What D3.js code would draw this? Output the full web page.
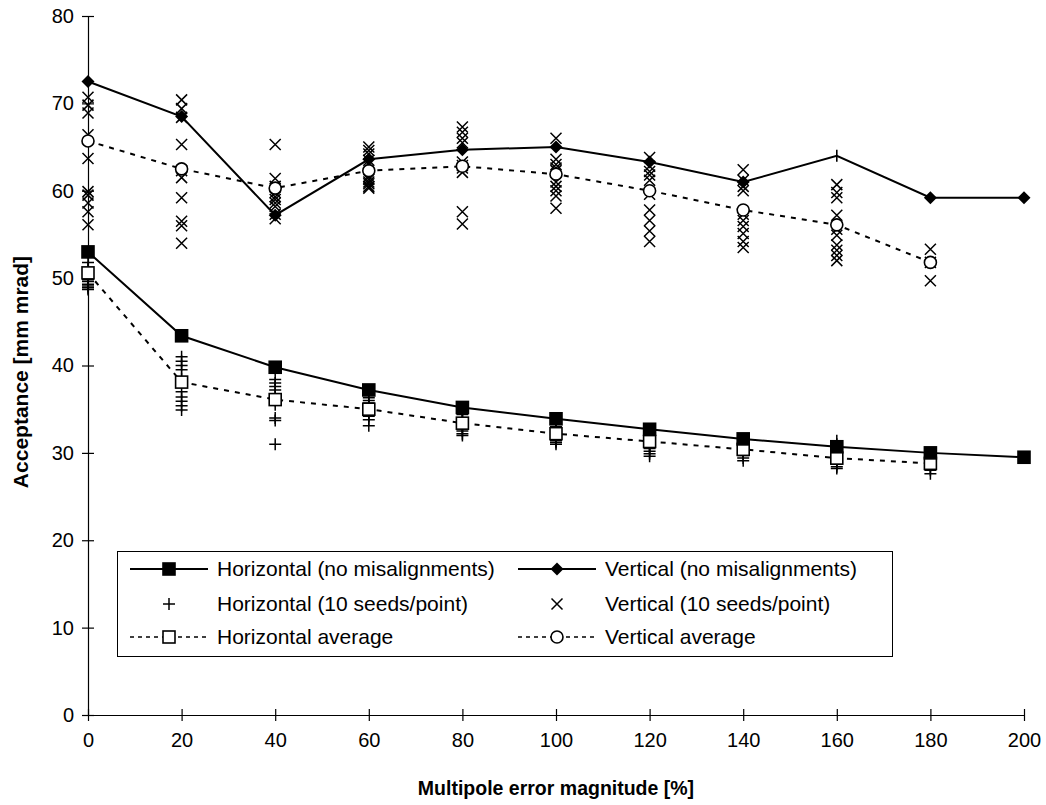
<!DOCTYPE html>
<html>
<head>
<meta charset="utf-8">
<script src="https://cdn.jsdelivr.net/npm/d3@7"></script>
<style>
  body { margin: 0; background: #fff; }
  svg { display: block; font-family: "Liberation Sans", Arial, sans-serif; }
</style>
</head>
<body>
<svg id="chart" width="1046" height="805"></svg>
<script>
'use strict'

// multipole error magnitude [%]
const errorPct = [0, 20, 40, 60, 80, 100, 120, 140, 160, 180, 200]

// acceptance without misalignments
const horizNoMis = [53.0, 43.4, 39.8, 37.2, 35.2, 33.9, 32.7, 31.6, 30.7, 30.0, 29.5]
const vertNoMis = [72.5, 68.5, 57.2, 63.6, 64.7, 65.0, 63.3, 61.0, 64.0, 59.2, 59.2]

// averages over the seeds (no point at 200)
const horizAvg = [50.6, 38.1, 36.1, 35.0, 33.4, 32.2, 31.3, 30.4, 29.4, 28.8]
const vertAvg = [65.7, 62.5, 60.3, 62.3, 62.8, 61.9, 60.0, 57.8, 56.1, 51.8]

// individual seeds, one list per error magnitude 0..180
const horizSeeds = [
  [51.8, 51.2, 50.4, 50.0, 49.6, 49.3, 49.1, 48.9, 48.7, 49.8],
  [41.0, 40.5, 40.0, 39.5, 38.5, 37.0, 36.4, 35.9, 35.4, 34.9],
  [38.4, 38.0, 37.6, 37.2, 36.6, 36.0, 35.5, 34.0, 33.7, 31.0],
  [36.3, 36.0, 35.7, 35.3, 35.0, 34.8, 34.5, 34.2, 33.8, 33.1],
  [34.8, 34.4, 34.0, 33.7, 33.4, 33.1, 32.8, 32.5, 32.2, 32.0],
  [33.5, 33.0, 32.7, 32.4, 32.1, 31.8, 31.6, 31.4, 31.2, 31.0],
  [32.3, 32.0, 31.7, 31.4, 31.1, 30.8, 30.5, 30.2, 29.9, 29.6],
  [31.4, 31.1, 30.8, 30.6, 30.4, 30.2, 30.0, 29.7, 29.4, 29.1],
  [31.4, 31.0, 30.6, 30.2, 29.8, 29.4, 29.0, 28.7, 28.4, 28.2],
  [29.9, 29.5, 29.1, 28.8, 28.4, 28.0, 27.6]
]
const vertSeeds = [
  [70.7, 69.8, 68.9, 66.4, 63.7, 59.9, 59.5, 58.6, 57.6, 56.1],
  [70.4, 69.4, 68.4, 65.3, 62.3, 61.5, 59.2, 56.5, 56.0, 54.0],
  [65.3, 61.4, 60.5, 59.8, 59.3, 59.0, 58.6, 58.2, 57.3, 56.8],
  [65.0, 64.6, 64.2, 63.5, 61.6, 61.3, 61.0, 60.8, 60.5, 60.3],
  [67.3, 66.7, 66.0, 63.3, 62.9, 62.6, 62.1, 57.6, 56.2, 65.5],
  [66.0, 63.6, 63.0, 62.6, 62.3, 61.0, 60.5, 60.0, 59.4, 58.0],
  [63.8, 62.8, 61.8, 61.2, 59.6, 57.8, 56.6, 55.4, 54.2, 62.2],
  [62.4, 61.2, 60.5, 60.0, 57.3, 56.6, 55.9, 55.1, 54.2, 53.5],
  [60.7, 59.8, 59.2, 57.2, 55.6, 54.9, 53.8, 53.2, 52.6, 52.0],
  [53.3, 51.8, 49.7]
]

const yTicks = [0, 10, 20, 30, 40, 50, 60, 70, 80]
const xTicks = [0, 20, 40, 60, 80, 100, 120, 140, 160, 180, 200]

const legendLabels = [
  ['Horizontal (no misalignments)', 'Vertical (no misalignments)'],
  ['Horizontal (10 seeds/point)', 'Vertical (10 seeds/point)'],
  ['Horizontal average', 'Vertical average']
]

const svg = d3.select('#chart')
const plot = { left: 88, right: 1024, top: 16, bottom: 715 }

const x = d3.scaleLinear().domain([0, 200]).range([plot.left, plot.right])
const y = d3.scaleLinear().domain([0, 80]).range([plot.bottom, plot.top])

// ---- axes (ticks cross the axis line, like the original)
const yAxis = svg.append('g')
  .attr('transform', 'translate(' + plot.left + ',0)')
  .call(d3.axisLeft(y).tickValues(yTicks).tickSizeInner(6).tickSizeOuter(0).tickPadding(8))
yAxis.selectAll('.tick line').attr('x2', -6).attr('x1', 6)

const xAxis = svg.append('g')
  .attr('transform', 'translate(0,' + plot.bottom + ')')
  .call(d3.axisBottom(x).tickValues(xTicks).tickSizeInner(6).tickSizeOuter(0).tickPadding(12))
xAxis.selectAll('.tick line').attr('y1', -6).attr('y2', 6)

svg.selectAll('.domain, .tick line').attr('stroke', '#000').attr('stroke-width', 1.2)
svg.selectAll('.tick text')
  .attr('font-family', '"Liberation Sans", Arial, sans-serif')
  .attr('font-size', 20)
  .attr('fill', '#000')

svg.append('text')
  .attr('x', (plot.left + plot.right) / 2)
  .attr('y', 795)
  .attr('text-anchor', 'middle')
  .attr('font-size', 19.5)
  .attr('font-weight', 'bold')
  .text('Multipole error magnitude [%]')

svg.append('text')
  .attr('transform', 'translate(28,' + 372 + ') rotate(-90)')
  .attr('text-anchor', 'middle')
  .attr('font-size', 21)
  .attr('font-weight', 'bold')
  .text('Acceptance [mm mrad]')

// ---- marker helpers
function squareMark (g, cx, cy, fill) {
  g.append('rect')
    .attr('x', cx - 6).attr('y', cy - 6)
    .attr('width', 12).attr('height', 12)
    .attr('fill', fill).attr('stroke', '#000').attr('stroke-width', 1.6)
}
function diamondMark (g, cx, cy) {
  g.append('path')
    .attr('d', 'M' + cx + ',' + (cy - 6.5) + 'L' + (cx + 6.5) + ',' + cy + 'L' + cx + ',' + (cy + 6.5) + 'L' + (cx - 6.5) + ',' + cy + 'Z')
    .attr('fill', '#000')
}
function circleMark (g, cx, cy) {
  g.append('circle')
    .attr('cx', cx).attr('cy', cy).attr('r', 6)
    .attr('fill', '#fff').attr('stroke', '#000').attr('stroke-width', 1.6)
}
function crossMark (g, cx, cy) {
  const s = 5.5
  g.append('path')
    .attr('d', 'M' + (cx - s) + ',' + (cy - s) + 'L' + (cx + s) + ',' + (cy + s) + 'M' + (cx - s) + ',' + (cy + s) + 'L' + (cx + s) + ',' + (cy - s))
    .attr('stroke', '#000').attr('stroke-width', 1.5).attr('fill', 'none')
}
function plusMark (g, cx, cy) {
  const s = 6
  g.append('path')
    .attr('d', 'M' + (cx - s) + ',' + cy + 'L' + (cx + s) + ',' + cy + 'M' + cx + ',' + (cy - s) + 'L' + cx + ',' + (cy + s))
    .attr('stroke', '#000').attr('stroke-width', 1.5).attr('fill', 'none')
}

const line = d3.line().x(d => x(d[0])).y(d => y(d[1]))
const marks = svg.append('g')

// ---- seeds
vertSeeds.forEach((list, i) => list.forEach(v => crossMark(marks, x(errorPct[i]), y(v))))
horizSeeds.forEach((list, i) => list.forEach(v => plusMark(marks, x(errorPct[i]), y(v))))

// ---- averages (dotted)
const hAvgPts = horizAvg.map((v, i) => [errorPct[i], v])
const vAvgPts = vertAvg.map((v, i) => [errorPct[i], v])
;[hAvgPts, vAvgPts].forEach(pts => {
  svg.append('path')
    .attr('d', line(pts))
    .attr('fill', 'none').attr('stroke', '#000')
    .attr('stroke-width', 2).attr('stroke-dasharray', '5,6')
})

// ---- no misalignments (solid)
const hPts = horizNoMis.map((v, i) => [errorPct[i], v])
const vPts = vertNoMis.map((v, i) => [errorPct[i], v])
;[hPts, vPts].forEach(pts => {
  svg.append('path')
    .attr('d', line(pts))
    .attr('fill', 'none').attr('stroke', '#000').attr('stroke-width', 2)
})

const markLayer = svg.append('g')
hAvgPts.forEach(d => squareMark(markLayer, x(d[0]), y(d[1]), '#fff'))
vAvgPts.forEach(d => circleMark(markLayer, x(d[0]), y(d[1])))
hPts.forEach(d => squareMark(markLayer, x(d[0]), y(d[1]), '#000'))
vPts.forEach(d => {
  // the 160 % point shows only as a small tick in the original
  if (d[0] === 160) {
    markLayer.append('line')
      .attr('x1', x(d[0])).attr('x2', x(d[0]))
      .attr('y1', y(d[1]) - 6).attr('y2', y(d[1]) + 6)
      .attr('stroke', '#000').attr('stroke-width', 1.6)
  } else {
    diamondMark(markLayer, x(d[0]), y(d[1]))
  }
})

// ---- legend
const legend = svg.append('g')
legend.append('rect')
  .attr('x', 117.5).attr('y', 551.5).attr('width', 775).attr('height', 105)
  .attr('fill', '#fff').attr('stroke', '#000').attr('stroke-width', 1)

const rowY = [569, 604, 637]
const colX = [130, 518]
const lineLen = 78
const drawers = [
  [(g, cx, cy) => squareMark(g, cx, cy, '#000'), (g, cx, cy) => diamondMark(g, cx, cy)],
  [plusMark, crossMark],
  [(g, cx, cy) => squareMark(g, cx, cy, '#fff'), circleMark]
]
legendLabels.forEach((row, r) => {
  row.forEach((label, c) => {
    const lx = colX[c]
    const ly = rowY[r]
    if (r !== 1) {
      legend.append('line')
        .attr('x1', lx).attr('x2', lx + lineLen)
        .attr('y1', ly).attr('y2', ly)
        .attr('stroke', '#000').attr('stroke-width', r === 0 ? 2 : 1.5)
        .attr('stroke-dasharray', r === 2 ? '4,4' : null)
    }
    drawers[r][c](legend, lx + lineLen / 2, ly)
    legend.append('text')
      .attr('x', lx + lineLen + 9)
      .attr('y', ly)
      .attr('dy', '0.35em')
      .attr('font-size', 21)
      .text(label)
  })
})
</script>
</body>
</html>
